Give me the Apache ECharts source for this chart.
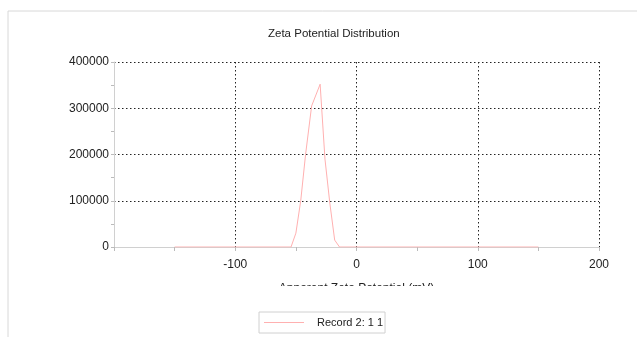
<!DOCTYPE html>
<html>
<head>
<meta charset="utf-8">
<script src="https://cdn.jsdelivr.net/npm/echarts@6/dist/echarts.min.js"></script>
<style>
  html, body { margin: 0; padding: 0; background: #fff; }
  #chart { width: 637px; height: 337px; }
</style>
</head>
<body>
<div id="chart"></div>
<script>
// zeta potential (mV) and counts
const zeta = [-150, -54, -50, -46, -42, -37, -30, -26, -22, -18, -14, 150]
const counts = [0, 0, 30000, 100000, 200000, 305000, 352000, 190000, 95000, 15000, 0, 0]
const seriesName = 'Record 2: 1 1'
const xTicks = [-200, 200, 100]
const yTicks = [0, 400000, 100000]

const chart = echarts.init(document.getElementById('chart'))
const font = 'Liberation Sans, Arial, sans-serif'
const gridDots = { color: '#222', width: 1, type: [1.5, 2.5] }

chart.setOption({
  animation: false,
  title: {
    text: 'Zeta Potential Distribution',
    left: 263,
    top: 23,
    textStyle: { fontFamily: font, fontSize: 11.5, fontWeight: 'normal', color: '#222' },
  },
  legend: {
    data: [seriesName],
    left: 259,
    top: 312,
    padding: [5, 2, 5, 5],
    borderColor: '#d0d0d0',
    borderWidth: 1,
    itemWidth: 40,
    itemHeight: 1,
    itemGap: 10,
    icon: 'rect',
    textStyle: { fontFamily: font, fontSize: 11, color: '#222', padding: [0, 0, 0, 8] },
  },
  grid: { left: 114, right: 38, top: 62, bottom: 90 },
  xAxis: {
    type: 'value',
    min: xTicks[0],
    max: xTicks[1],
    interval: xTicks[2],
    name: 'Apparent Zeta Potential (mV)',
    nameLocation: 'middle',
    nameGap: 36,
    nameTextStyle: { fontFamily: font, fontSize: 12, color: '#222' },
    axisLine: { show: true, onZero: false, lineStyle: { color: '#d0d0d0' } },
    axisTick: { show: true, length: 4, lineStyle: { color: '#bbb' } },
    minorTick: { show: true, splitNumber: 2, length: 4, lineStyle: { color: '#bbb' } },
    axisLabel: {
      fontFamily: font, fontSize: 12, color: '#222', margin: 12,
      formatter: (v) => (v === xTicks[0] ? '' : String(v)),
    },
    splitLine: { show: true, lineStyle: gridDots },
  },
  yAxis: {
    type: 'value',
    min: yTicks[0],
    max: yTicks[1],
    interval: yTicks[2],
    axisLine: { show: true, onZero: false, lineStyle: { color: '#d0d0d0' } },
    axisTick: { show: true, length: 3, lineStyle: { color: '#bbb' } },
    minorTick: { show: true, splitNumber: 2, length: 3, lineStyle: { color: '#bbb' } },
    axisLabel: { fontFamily: font, fontSize: 12, color: '#222', margin: 5, formatter: (v) => String(v) },
    splitLine: { show: true, lineStyle: gridDots },
  },
  series: [
    {
      name: seriesName,
      type: 'line',
      showSymbol: false,
      data: zeta.map((z, i) => [z, counts[i]]),
      lineStyle: { width: 1, color: '#ffb0b0' },
      itemStyle: { color: '#ffb0b0' },
    },
  ],
  graphic: [
    // panel frame
    { type: 'line', shape: { x1: 8, y1: 11, x2: 637, y2: 11 }, style: { stroke: '#d8d8d8', lineWidth: 1 } },
    { type: 'line', shape: { x1: 8, y1: 11, x2: 8, y2: 337 }, style: { stroke: '#d8d8d8', lineWidth: 1 } },
    // axis name is cut off in the original
    { type: 'rect', shape: { x: 250, y: 286, width: 220, height: 18 }, style: { fill: '#fff' }, z: 100 },
  ],
})
</script>
</body>
</html>
